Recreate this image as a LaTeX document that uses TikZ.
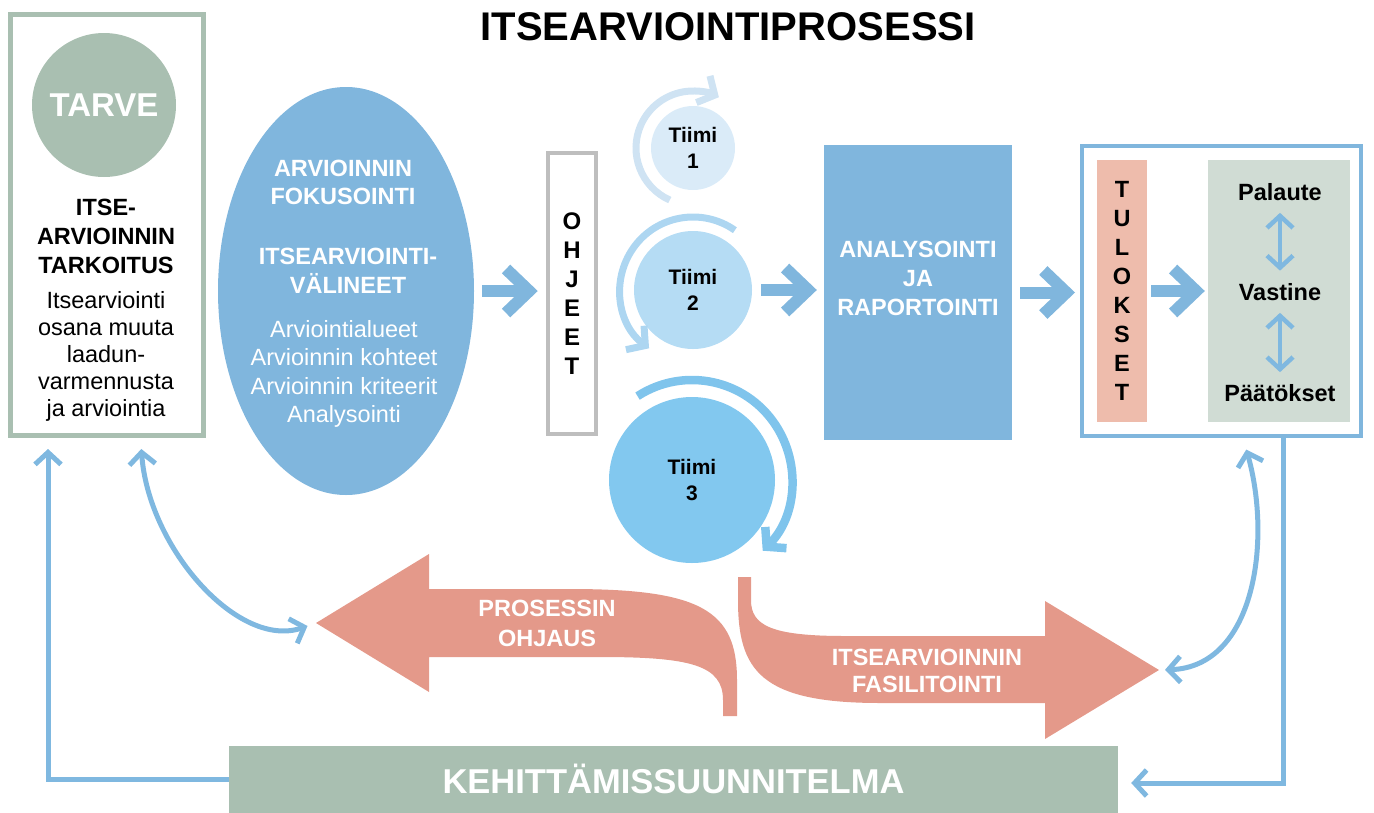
\documentclass[tikz,border=0pt]{standalone}
\usepackage{fontspec}
\setmainfont{Liberation Sans}
\usetikzlibrary{arrows.meta,shapes.geometric}

\definecolor{salvia}{HTML}{A9BFB1}
\definecolor{sininen}{HTML}{80B6DD}
\definecolor{linkkisin}{HTML}{7FB8E0}
\definecolor{tiimiA}{HTML}{DAEBF8}
\definecolor{kaariA}{HTML}{CFE3F3}
\definecolor{tiimiB}{HTML}{B5DCF4}
\definecolor{kaariB}{HTML}{ADD6F1}
\definecolor{tiimiC}{HTML}{82C8EF}
\definecolor{kaariC}{HTML}{7FC4EC}
\definecolor{lohi}{HTML}{E4998A}
\definecolor{lohivaalea}{HTML}{EEBCAC}
\definecolor{paneeli}{HTML}{D0DCD4}
\definecolor{harmaa}{HTML}{BEBEBE}

\newcommand{\fsz}[2]{\fontsize{#1}{#2}\selectfont}

\tikzset{
  teksti/.style={align=center, inner sep=0pt, font=\fsz{23.5}{28.5}},
  lihava/.style={teksti, font=\fsz{23.5}{28.5}\bfseries},
  tiimi/.style={circle, inner sep=0pt, align=center, font=\fsz{21}{26}\bfseries},
  nuoli/.style={draw=sininen, line width=12pt, -{Straight Barb[length=23pt,width=44pt,line width=12pt]}},
  linkki/.style={draw=linkkisin, line width=5pt, -{Straight Barb[length=12pt,width=26pt]}},
  linkki2/.style={draw=linkkisin, line width=5pt, {Straight Barb[length=12pt,width=26pt]}-{Straight Barb[length=12pt,width=26pt]}},
  kaari/.style={line width=7pt, -{Straight Barb[length=13pt,width=30pt]}}
}

\begin{document}
\begin{tikzpicture}[x=1pt, y=1pt]
  \useasboundingbox (0,0) rectangle (1374,-812);

  % タイトル
  \node[font=\fsz{40}{48}\bfseries] (otsikko) at (728,-27) {ITSEARVIOINTIPROSESSI};

  % 左の枠(TARVE)
  \node[draw=salvia, line width=5pt, minimum width=193pt, minimum height=421pt, inner sep=0pt] (tarkoitus) at (106.5,-224.5) {};
  \node[circle, fill=salvia, minimum size=144pt, inner sep=0pt, text=white, font=\fsz{33}{40}\bfseries] (tarve) at (104,-105) {TARVE};
  \node[lihava, font=\fsz{23.5}{29}\bfseries] (itse) at (106,-236) {ITSE-\\ARVIOINNIN\\TARKOITUS};
  \node[teksti, font=\fsz{23.5}{27}] (osana) at (106,-356) {Itsearviointi\\osana muuta\\laadun-\\varmennusta\\ja arviointia};

  % 楕円(フォーカス)
  \node[ellipse, fill=sininen, minimum width=256pt, minimum height=408pt, inner sep=0pt] (fokus) at (346,-291) {};
  \node[lihava, text=white] (fokusteksti) at (343,-182.5) {ARVIOINNIN\\FOKUSOINTI};
  \node[lihava, text=white] (valineet) at (348,-271) {ITSEARVIOINTI-\\VÄLINEET};
  \node[teksti, text=white] (alueet) at (344,-374) {Arviointialueet\\Arvioinnin kohteet\\Arvioinnin kriteerit\\Analysointi};

  % OHJEET
  \node[draw=harmaa, fill=white, line width=4.5pt, minimum width=48pt, minimum height=281pt, lihava, font=\fsz{24}{29}\bfseries] (ohjeet) at (572,-293.5) {O\\H\\J\\E\\E\\T};

  % チーム(円と回転矢印)
  \node[tiimi, fill=tiimiA, minimum size=84pt] (t1) at (693,-148) {Tiimi\\1};
  \node[tiimi, fill=tiimiB, minimum size=118pt] (t2) at (693,-290) {Tiimi\\2};
  \node[tiimi, fill=tiimiC, minimum size=166pt] (t3) at (692,-480) {Tiimi\\3};
  \draw[kaari, draw=kaariA] ([shift={(246:57)}]t1.center) arc[start angle=246, end angle=63, radius=57];
  \draw[kaari, draw=kaariB] ([shift={(55:73)}]t2.center) arc[start angle=55, end angle=233, radius=73];
  \draw[kaari, draw=kaariC, line width=8.5pt] ([shift={(123:100)}]t3.center) arc[start angle=123, end angle=-45, radius=100];

  % ANALYSOINTI JA RAPORTOINTI
  \node[fill=sininen, minimum width=188pt, minimum height=295pt] (analyysi) at (918,-292.5) {};
  \node[lihava, text=white, font=\fsz{23.5}{29}\bfseries] (analyysiteksti) at (918,-278) {ANALYSOINTI\\JA\\RAPORTOINTI};

  % 結果の枠
  \node[draw=sininen, line width=4pt, minimum width=279pt, minimum height=290pt] (tulos) at (1221.5,-291) {};
  \node[fill=lohivaalea, minimum width=50pt, minimum height=262pt, lihava, font=\fsz{23.5}{29}\bfseries] (tulokset) at (1122,-291) {T\\U\\L\\O\\K\\S\\E\\T};
  \node[fill=paneeli, minimum width=142pt, minimum height=262pt] (paneeli) at (1279,-291) {};
  \node[lihava, anchor=base] (palaute) at (1280,-200.4) {Palaute};
  \node[lihava, anchor=base] (vastine) at (1280,-300.4) {Vastine};
  \node[lihava, anchor=base] (paatokset) at (1280,-401.4) {Päätökset};
  \draw[linkki2, line width=4.5pt, shorten <=12pt, shorten >=12.5pt] (palaute) -- (vastine);
  \draw[linkki2, line width=4.5pt, shorten <=12pt, shorten >=12pt] (vastine) -- (paatokset);

  % 太い矢印
  \draw[nuoli, shorten <=8pt, shorten >=8pt] (fokus.east) -- (fokus.east -| ohjeet.west);
  \draw[nuoli, shorten <=9pt, shorten >=7pt] (t2.east) -- (t2.east -| analyysi.west);
  \draw[nuoli, shorten <=8pt, shorten >=5pt] (analyysi.east) -- (analyysi.east -| tulos.west);
  \draw[nuoli, shorten <=4pt, shorten >=3pt] (tulokset.east) -- (paneeli.west);

  % 曲がった矢印(左:PROSESSIN OHJAUS)
  \coordinate (vkarki) at (316,-623);
  \fill[lohi] (vkarki) -- (429,-554) -- (429,-589) -- (570,-589) .. controls (700,-589) and (737,-610) .. (737,-680) -- (737,-716) -- (723,-716) -- (723,-700) .. controls (723,-665) and (690,-657) .. (600,-657) -- (429,-657) -- (429,-692) -- cycle;
  \node[lihava, text=white, font=\fsz{23.5}{30}\bfseries] (ohjaus) at (547,-623) {PROSESSIN\\OHJAUS};

  % 曲がった矢印(右:FASILITOINTI)
  \coordinate (okarki) at (1159,-670);
  \fill[lohi] (738,-577) -- (751,-577) -- (751,-600) .. controls (751,-625) and (770,-636) .. (845,-636) -- (1045,-636) -- (1045,-601) -- (okarki) -- (1045,-739) -- (1045,-703) -- (880,-703) .. controls (760,-703) and (738,-670) .. (738,-600) -- cycle;
  \node[lihava, text=white, font=\fsz{23.5}{27}\bfseries] (fasilitointi) at (927,-670.5) {ITSEARVIOINNIN\\FASILITOINTI};

  % KEHITTÄMISSUUNNITELMA
  \node[fill=salvia, minimum width=889pt, minimum height=67pt, text=white, font=\fsz{34.5}{40}\bfseries] (kehitys) at (673.5,-779) {KEHITTÄMISSUUNNITELMA};

  % 細い矢印
  \draw[linkki, shorten >=11.5pt] (kehitys.west) -| ([xshift=-58.5pt]tarkoitus.south);
  \draw[linkki2, shorten <=11.5pt, shorten >=9pt] ([xshift=34pt]tarkoitus.south) .. controls +(8,-111) and +(-77,-27) .. (vkarki);
  \draw[linkki2, shorten <=12pt, shorten >=6pt] ([xshift=21.5pt]tulos.south) .. controls +(29,-102) and +(96,3) .. (okarki);
  \draw[linkki, shorten >=13pt] ([xshift=61.5pt]tulos.south) |- ([yshift=-4pt]kehitys.east);
\end{tikzpicture}
\end{document}
